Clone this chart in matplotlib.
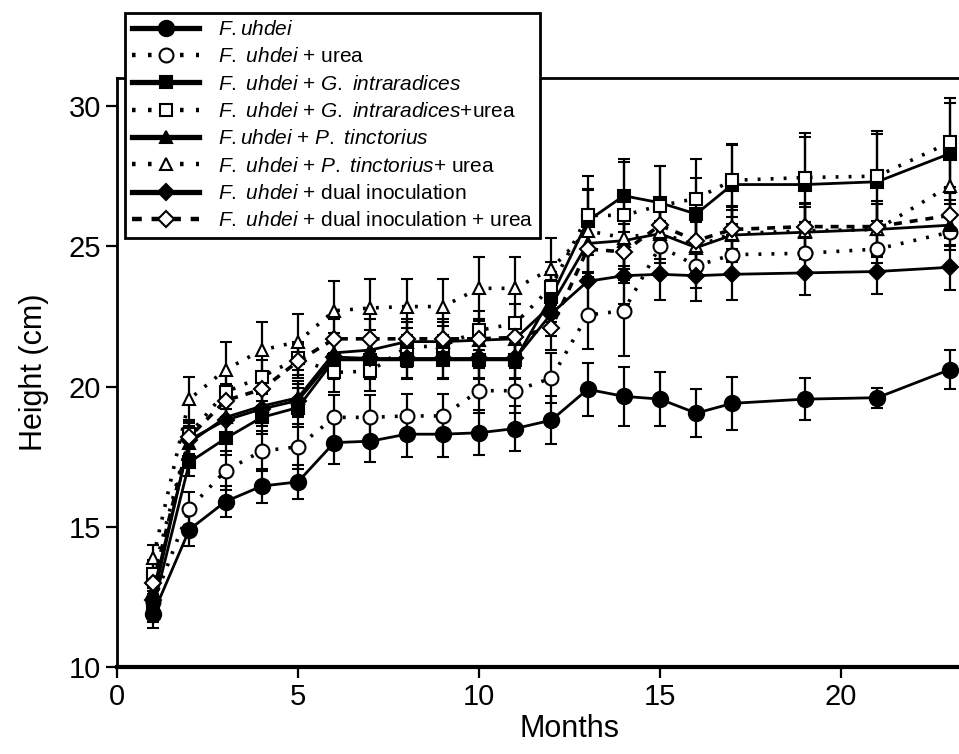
import numpy as np
import matplotlib
matplotlib.use('Agg')
import matplotlib.pyplot as plt
from matplotlib.lines import Line2D

plt.rcParams['font.family'] = ['Liberation Sans', 'DejaVu Sans']
plt.rcParams['mathtext.fontset'] = 'custom'
plt.rcParams['mathtext.rm'] = 'Liberation Sans'
plt.rcParams['mathtext.it'] = 'Liberation Sans:italic'

months = [1, 2, 3, 4, 5, 6, 7, 8, 9, 10, 11, 12, 13, 14, 15, 16, 17, 19, 21, 23]

fu = [11.9, 14.9, 15.9, 16.45, 16.6, 18.0, 18.05, 18.3, 18.3, 18.35, 18.5, 18.8,
      19.9, 19.65, 19.55, 19.05, 19.4, 19.55, 19.6, 20.6]
fu_err = [0.5, 0.6, 0.55, 0.6, 0.6, 0.75, 0.75, 0.8, 0.8, 0.8, 0.8, 0.85,
          0.95, 1.05, 0.95, 0.85, 0.95, 0.75, 0.35, 0.7]

urea = [12.3, 15.65, 17.0, 17.7, 17.85, 18.9, 18.9, 18.95, 18.95, 19.85, 19.85, 20.3,
        22.55, 22.7, 25.0, 24.3, 24.7, 24.75, 24.9, 25.5]
urea_err = [0.4, 0.6, 0.7, 0.7, 0.8, 0.8, 0.8, 0.8, 0.8, 0.8, 0.8, 0.9,
            1.2, 1.6, 0.9, 0.8, 0.7, 0.6, 0.5, 0.5]

gi = [12.1, 17.3, 18.15, 18.9, 19.25, 20.95, 20.95, 20.95, 20.95, 20.95, 20.95, 23.2,
      25.9, 26.8, 26.55, 26.15, 27.2, 27.2, 27.3, 28.3]
gi_err = [0.5, 0.5, 0.6, 0.6, 0.7, 0.7, 0.7, 0.7, 0.7, 0.7, 0.7, 0.9,
          1.1, 1.3, 1.3, 1.3, 1.4, 1.7, 1.7, 1.8]

gi_urea = [13.3, 18.3, 19.8, 20.35, 21.0, 20.5, 20.55, 21.4, 21.45, 22.0, 22.25, 23.55,
           26.1, 26.1, 26.45, 26.7, 27.35, 27.45, 27.5, 28.7]
gi_urea_err = [0.5, 0.5, 0.6, 0.6, 0.6, 0.7, 0.7, 0.7, 0.7, 0.7, 0.7, 0.9,
               1.4, 1.9, 1.4, 1.4, 1.3, 1.6, 1.6, 1.6]

pt = [12.7, 18.0, 18.9, 19.3, 19.6, 21.2, 21.3, 21.6, 21.6, 21.65, 21.7, 22.9,
      25.1, 25.2, 25.45, 24.95, 25.4, 25.5, 25.6, 25.75]
pt_err = [0.5, 0.6, 0.6, 0.6, 0.6, 0.7, 0.7, 0.7, 0.7, 0.7, 0.7, 0.9,
          1.0, 1.0, 0.9, 0.9, 0.9, 0.9, 0.9, 0.9]

pt_urea = [13.9, 19.55, 20.6, 21.3, 21.6, 22.7, 22.8, 22.85, 22.85, 23.5, 23.5, 24.2,
           25.55, 25.3, 25.5, 25.0, 25.45, 25.55, 25.6, 27.15]
pt_urea_err = [0.45, 0.8, 1.0, 1.0, 1.0, 1.05, 1.05, 1.0, 1.0, 1.1, 1.1, 1.1,
               1.5, 1.6, 1.1, 1.0, 1.0, 1.0, 1.0, 1.0]

dual = [12.4, 18.1, 18.8, 19.2, 19.5, 21.05, 21.0, 21.0, 21.0, 21.0, 21.0, 22.6,
        23.75, 23.95, 24.0, 23.95, 24.0, 24.05, 24.1, 24.25]
dual_err = [0.5, 0.6, 0.6, 0.6, 0.6, 0.7, 0.7, 0.7, 0.7, 0.7, 0.7, 0.8,
            1.2, 1.0, 0.9, 0.9, 0.9, 0.8, 0.8, 0.8]

dual_urea = [13.0, 18.2, 19.5, 19.9, 20.9, 21.7, 21.7, 21.7, 21.7, 21.7, 21.75, 22.1,
             24.9, 24.8, 25.75, 25.2, 25.6, 25.7, 25.7, 26.1]
dual_urea_err = [0.5, 0.6, 0.6, 0.6, 0.6, 0.7, 0.7, 0.7, 0.7, 0.7, 0.7, 0.8,
                 1.0, 1.0, 0.8, 0.8, 0.8, 0.8, 0.8, 0.8]

labels = [r'$\mathit{F.uhdei}$',
          r'$\mathit{F.}$ $\mathit{uhdei}$ + urea',
          r'$\mathit{F.}$ $\mathit{uhdei}$ + $\mathit{G.}$ $\mathit{intraradices}$',
          r'$\mathit{F.}$ $\mathit{uhdei}$ + $\mathit{G.}$ $\mathit{intraradices}$+urea',
          r'$\mathit{F.uhdei}$ + $\mathit{P.}$ $\mathit{tinctorius}$',
          r'$\mathit{F.}$ $\mathit{uhdei}$ + $\mathit{P.}$ $\mathit{tinctorius}$+ urea',
          r'$\mathit{F.}$ $\mathit{uhdei}$ + dual inoculation',
          r'$\mathit{F.}$ $\mathit{uhdei}$ + dual inoculation + urea']

dotted = (0, (0.8, 2.8))
dashed = (0, (2.2, 2.2))
series = [
    (fu, fu_err, 'o', 'k', '-', 11),
    (urea, urea_err, 'o', 'w', dotted, 10),
    (gi, gi_err, 's', 'k', '-', 9),
    (gi_urea, gi_urea_err, 's', 'w', dotted, 9),
    (pt, pt_err, '^', 'k', '-', 9),
    (pt_urea, pt_urea_err, '^', 'w', dotted, 9),
    (dual, dual_err, 'D', 'k', '-', 8),
    (dual_urea, dual_urea_err, 'D', 'w', dashed, 8),
]

fig = plt.figure(figsize=(9.59, 7.54), dpi=100)
ax = fig.add_axes([0.122, 0.1154, 0.9437, 0.7812])

handles = []
for (vals, err, mk, fc, ls, ms), lab in zip(series, labels):
    lw = 2.0 if ls == '-' else 2.6
    ax.errorbar(months, vals, yerr=err, fmt=mk, color='k', mfc=fc, mec='k',
                mew=1.5, ms=ms, ls=ls, lw=lw, elinewidth=1.6,
                capsize=4.5, capthick=1.6, zorder=3)
    handles.append(Line2D([], [], color='k', marker=mk, mfc=fc, mec='k', mew=1.5,
                          ms=ms, ls=ls, lw=3.8 if ls == '-' else 3.2))

ax.set_xlim(0, 25)
ax.set_ylim(10, 31)
ax.set_xticks([0, 5, 10, 15, 20])
ax.set_yticks([10, 15, 20, 25, 30])
ax.tick_params(axis='both', direction='out', length=8, width=1.6, labelsize=21)
ax.spines['right'].set_visible(False)
for s in ['left', 'top']:
    ax.spines[s].set_linewidth(2.0)
ax.spines['bottom'].set_linewidth(3.0)

ax.set_xlabel('Months', fontsize=22, labelpad=2)
ax.set_ylabel('Height (cm)', fontsize=22, labelpad=14)

leg = ax.legend(handles, labels, loc='upper left',
                bbox_to_anchor=(0.1303, 0.983), bbox_transform=fig.transFigure,
                fontsize=15, frameon=True, fancybox=False, framealpha=1,
                edgecolor='k', borderaxespad=0, handlelength=3.2,
                labelspacing=0.4, borderpad=0.35, handletextpad=0.9)
leg.get_frame().set_linewidth(2.0)
leg.set_zorder(10)

fig.savefig('out.png', dpi=100)
